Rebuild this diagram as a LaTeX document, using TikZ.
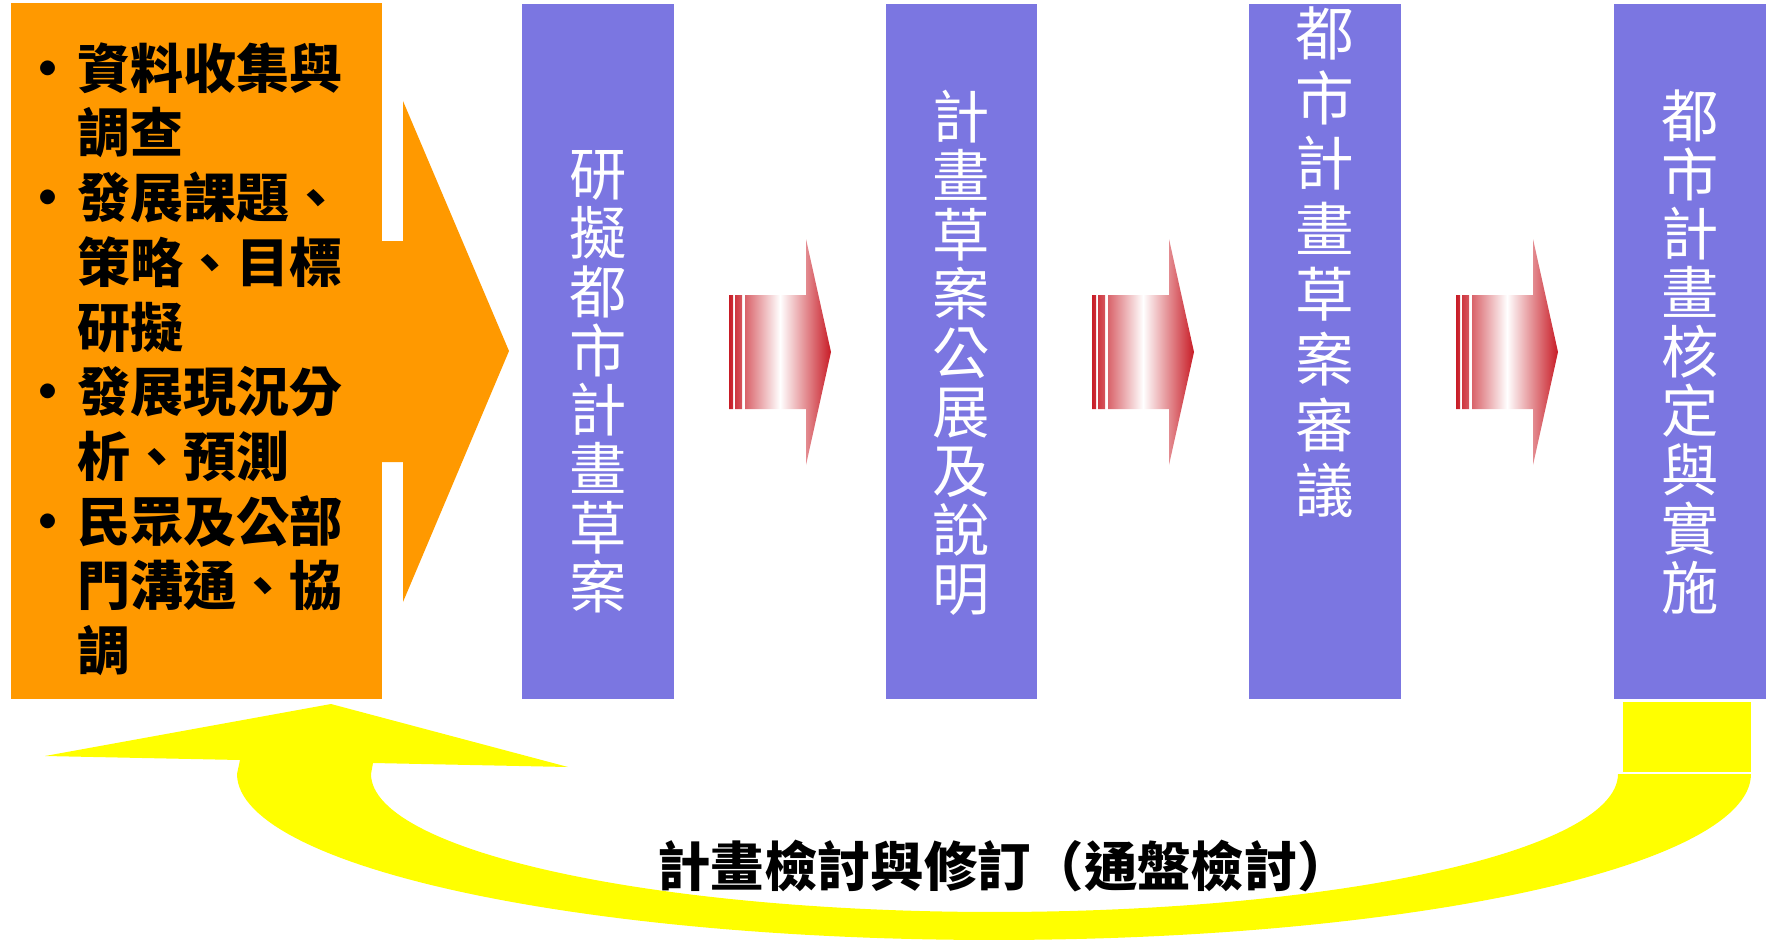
\documentclass[tikz,border=0pt]{standalone}
\usepackage{fontspec}
\newfontfamily\cjk{Noto Sans CJK TC}
\definecolor{orng}{RGB}{255,153,0}
\definecolor{purp}{RGB}{123,118,225}
\definecolor{arred}{RGB}{200,28,38}
\definecolor{ylw}{RGB}{255,255,0}
\tikzset{
  stagebox/.style={fill=purp},
  vtext/.style={text=white, align=center, inner sep=0pt, font=\cjk\fontsize{43}{44.3}\selectfont},
  redarrow/.style={left color=arred, right color=arred, middle color=white},
}
\begin{document}
\begin{tikzpicture}[x=0.75pt,y=-0.75pt]
\useasboundingbox (0,0) rectangle (1774,942);
% orange input block with arrow
\fill[orng] (11,3) rectangle (382,699);
\fill[orng] (381,241) -- (403,241) -- (403,101) -- (509,351) -- (403,602) -- (403,462) -- (381,462) -- cycle;
\node[anchor=west, inner sep=0pt, text=black, font=\cjk\bfseries\fontsize{39.75}{48}\selectfont] (list) at (33.5,366)
{\begin{tabular}{@{}c@{\hspace{11pt}}l@{}}
\makebox[22pt]{•} & 資料收集與\\
 & 調查\\
\makebox[22pt]{•} & 發展課題、\\
 & 策略、目標\\
 & 研擬\\
\makebox[22pt]{•} & 發展現況分\\
 & 析、預測\\
\makebox[22pt]{•} & 民眾及公部\\
 & 門溝通、協\\
 & 調
\end{tabular}};
% stage boxes
\fill[stagebox] (522,4) rectangle (674,699);
\fill[stagebox] (886,4) rectangle (1037,699);
\fill[stagebox] (1249,4) rectangle (1401,699);
\fill[stagebox] (1614,4) rectangle (1766,699);
\node[vtext] (s1) at (598,382) {研\\擬\\都\\市\\計\\畫\\草\\案};
\node[vtext] (s2) at (961,353) {計\\畫\\草\\案\\公\\展\\及\\說\\明};
\node[vtext, font=\cjk\fontsize{44}{49}\selectfont] (s3) at (1325,262) {都\\市\\計\\畫\\草\\案\\審\\議};
\node[vtext] (s4) at (1690,352) {都\\市\\計\\畫\\核\\定\\與\\實\\施};
% striped gradient arrows
\foreach \dx in {0,363,727} {
  \begin{scope}[shift={(\dx,0)}]
    \path[redarrow] (729,295) rectangle (733,409) (735,295) rectangle (742,409)
      (745,295) -- (806,295) -- (806,239) -- (831,352) -- (806,465) -- (806,409) -- (745,409) -- cycle;
  \end{scope}
}
% yellow feedback U-turn arrow
\fill[ylw] (1623,702) rectangle (1751,772);
\fill[ylw] (240,760) -- (237,774)
  -- plot[domain=180:360, samples=120] ({994+757*cos(\x)}, {774-166*sin(\x)})
  -- (1751,774) -- (1618,774)
  -- plot[domain=360:180, samples=120] ({994.5+623.5*cos(\x)}, {774-138*sin(\x)})
  -- (373,763) -- (568,767) -- (331,704) -- (45,756) -- cycle;
\node[inner sep=0pt, text=black, font=\cjk\bfseries\fontsize{40}{48}\selectfont] (fb) at (1004,866) {計畫檢討與修訂（通盤檢討）};
\end{tikzpicture}
\end{document}
